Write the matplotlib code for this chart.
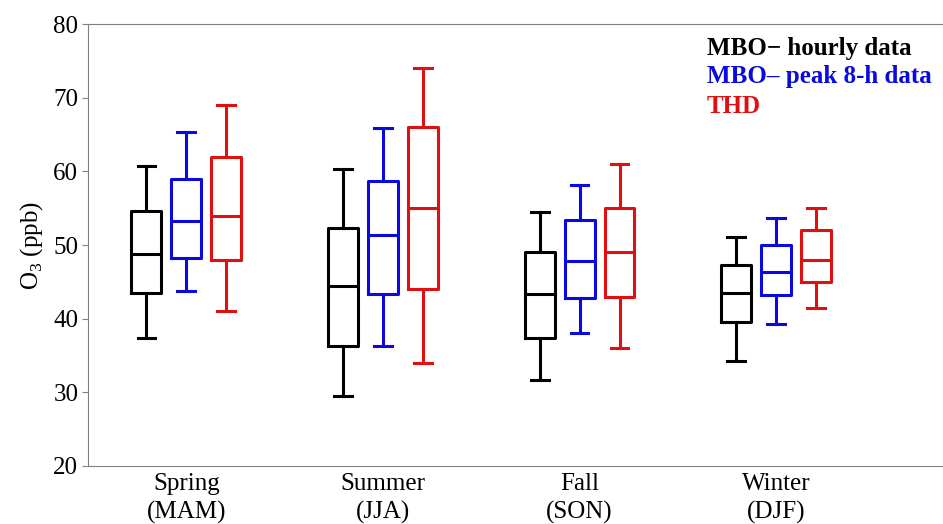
import matplotlib
matplotlib.use('Agg')
import matplotlib.pyplot as plt

plt.rcParams['font.family'] = ['Liberation Serif', 'DejaVu Serif']
plt.rcParams['mathtext.fontset'] = 'custom'
plt.rcParams['mathtext.rm'] = 'Liberation Serif'

seasons = ['Spring\n(MAM)', 'Summer\n(JJA)', 'Fall\n(SON)', 'Winter\n(DJF)']
series = ['MBO\u2212 hourly data', 'MBO\u2013 peak 8-h data', 'THD']
colors = ['black', '#0a0ae0', '#e01010']

# per season: (whislo, q1, median, q3, whishi)
mbo_hourly = [(37.4, 43.5, 48.8, 54.6, 60.7),
              (29.5, 36.3, 44.5, 52.3, 60.3),
              (31.7, 37.4, 43.3, 49.0, 54.5),
              (34.3, 39.5, 43.5, 47.3, 51.1)]
mbo_peak8h = [(43.8, 48.3, 53.3, 58.9, 65.4),
              (36.3, 43.3, 51.3, 58.7, 65.9),
              (38.0, 42.8, 47.8, 53.4, 58.2),
              (39.3, 43.2, 46.3, 50.0, 53.7)]
thd = [(41.0, 48.0, 54.0, 62.0, 69.0),
       (34.0, 44.0, 55.0, 66.0, 74.0),
       (36.0, 43.0, 49.0, 55.0, 61.0),
       (41.5, 45.0, 48.0, 52.0, 55.0)]

fig = plt.figure(figsize=(9.43, 5.24), dpi=100)
ax = fig.add_axes([88 / 943, 58 / 524, 854 / 943, 442 / 524])

offset = 0.203
for k, (data, col) in enumerate(zip([mbo_hourly, mbo_peak8h, thd], colors)):
    stats = []
    for lo, q1, med, q3, hi in data:
        stats.append(dict(whislo=lo, q1=q1, med=med, q3=q3, whishi=hi, fliers=[]))
    pos = [i + 1 + (k - 1) * offset for i in range(len(data))]
    lp = dict(color=col, linewidth=2.2)
    ax.bxp(stats, positions=pos, widths=0.152, capwidths=0.09, showfliers=False,
           boxprops=lp, whiskerprops=lp, capprops=lp, medianprops=lp)

ax.set_xlim(0.5, 4.843)
ax.set_ylim(20, 80)
ax.set_xticks([1, 2, 3, 4])
ax.set_xticklabels(seasons, fontsize=18, linespacing=1.32)
ax.set_yticks([20, 30, 40, 50, 60, 70, 80])
ax.tick_params(axis='y', labelsize=18, length=4, color='#808080', pad=3)
ax.tick_params(axis='x', length=0, pad=5)
ax.set_ylabel('O$_3$ (ppb)', fontsize=18, labelpad=6)
for s in ['left', 'bottom', 'top']:
    ax.spines[s].set_color('#808080')
ax.spines['right'].set_visible(False)

ys = [48, 77, 106]
for name, col, y in zip(series, colors, ys):
    fig.text(707 / 943, 1 - y / 524, name, color=col, fontsize=18,
             fontweight='bold', va='center', ha='left')

fig.savefig('out.png', dpi=100)
